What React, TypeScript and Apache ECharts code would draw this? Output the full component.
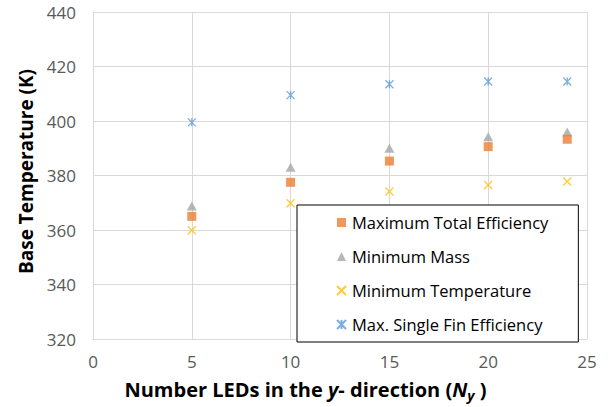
import React, { useEffect, useRef } from "react";
import * as echarts from "echarts";

const xTicks = [0, 5, 10, 15, 20, 25];
const nyValues = [5, 10, 15, 20, 24];
const maxTotalEff = [365, 377.5, 385.3, 390.6, 393.3];
const minMass = [368.8, 383, 390, 394.2, 396];
const minTemp = [359.9, 369.8, 374.1, 376.5, 377.8];
const maxSingleFin = [399.5, 409.5, 413.5, 414.5, 414.5];
const seriesNames = [
  "Maximum Total Efficiency",
  "Minimum Mass",
  "Minimum Temperature",
  "Max. Single Fin Efficiency",
];

const FONT = "Open Sans";

export default function App() {
  const ref = useRef<HTMLDivElement>(null);
  useEffect(() => {
    if (!ref.current) return;
    const chart = echarts.init(ref.current, undefined, { renderer: "svg" });
    const pts = (v: number[]) => nyValues.map((x, i) => [x, v[i]]);
    chart.setOption({
      animation: false,
      backgroundColor: "#fff",
      grid: { left: 93, right: 22, top: 12, bottom: 68, containLabel: false, outerBoundsMode: "none" },
      xAxis: {
        type: "value",
        min: xTicks[0],
        max: xTicks[xTicks.length - 1],
        interval: 5,
        axisLine: { show: true, lineStyle: { color: "#d9d9d9", width: 1 } },
        axisTick: { show: false },
        splitLine: { show: true, lineStyle: { color: "#d9d9d9", width: 1 } },
        axisLabel: { color: "#595959", fontSize: 17, fontFamily: FONT, margin: 14 },
        name: "{b|Number LEDs in the }{i|y}{b|- direction (}{i|N}{s|y}{b| )}",
        nameLocation: "middle",
        nameGap: 38,
        nameTextStyle: {
          padding: [0, 69, 0, 0],
          rich: {
            b: { fontSize: 20, fontWeight: "bold", fontFamily: FONT, color: "#000" },
            i: { fontSize: 20, fontWeight: "bold", fontStyle: "italic", fontFamily: FONT, color: "#000" },
            s: { fontSize: 14, fontWeight: "bold", fontStyle: "italic", fontFamily: FONT, color: "#000", padding: [11, 0, 0, 0] },
          },
        },
      },
      yAxis: {
        type: "value",
        min: 320,
        max: 440,
        interval: 20,
        axisLine: { show: true, lineStyle: { color: "#d9d9d9", width: 1 } },
        axisTick: { show: false },
        splitLine: { show: true, lineStyle: { color: "#d9d9d9", width: 1 } },
        axisLabel: { color: "#595959", fontSize: 17, fontFamily: FONT, margin: 17 },
        name: "Base Temperature (K)",
        nameLocation: "middle",
        nameGap: 56,
        nameTextStyle: {
          fontSize: 19,
          fontWeight: "bold",
          fontFamily: FONT,
          color: "#000",
          padding: [0, 0, 0, 8],
        },
      },
      legend: {
        orient: "vertical",
        left: 297,
        top: 205,
        backgroundColor: "#fff",
        borderColor: "#000",
        borderWidth: 1,
        padding: [9, 30, 9, 39],
        itemGap: 17,
        itemWidth: 9,
        itemHeight: 9,
        textStyle: { fontSize: 16.5, fontFamily: FONT, color: "#000", lineHeight: 16, padding: [0, 0, 0, 1] },
        data: seriesNames,
      },
      series: [
        {
          name: seriesNames[0],
          type: "scatter",
          data: pts(maxTotalEff),
          symbol: "rect",
          symbolSize: 9,
          itemStyle: { color: "#ED7D31" },
          z: 3,
        },
        {
          name: seriesNames[1],
          type: "scatter",
          data: pts(minMass),
          symbol: "triangle",
          symbolSize: [10, 9],
          itemStyle: { color: "#A5A5A5" },
          z: 2,
        },
        {
          name: seriesNames[2],
          type: "scatter",
          data: pts(minTemp),
          symbol: "path://M0,0L10,10M10,0L0,10",
          symbolSize: 8,
          itemStyle: { color: "#FFC000", borderColor: "#FFC000", borderWidth: 1.3 },
        },
        {
          name: seriesNames[3],
          type: "scatter",
          data: pts(maxSingleFin),
          symbol: "path://M0,0L10,10M10,0L0,10M5,0L5,10",
          symbolSize: 8,
          itemStyle: { color: "#5B9BD5", borderColor: "#5B9BD5", borderWidth: 1.3 },
        },
      ],
    });
    return () => chart.dispose();
  }, []);
  return <div ref={ref} style={{ width: 609, height: 407, position: "absolute", left: 0, top: 0 }} />;
}
